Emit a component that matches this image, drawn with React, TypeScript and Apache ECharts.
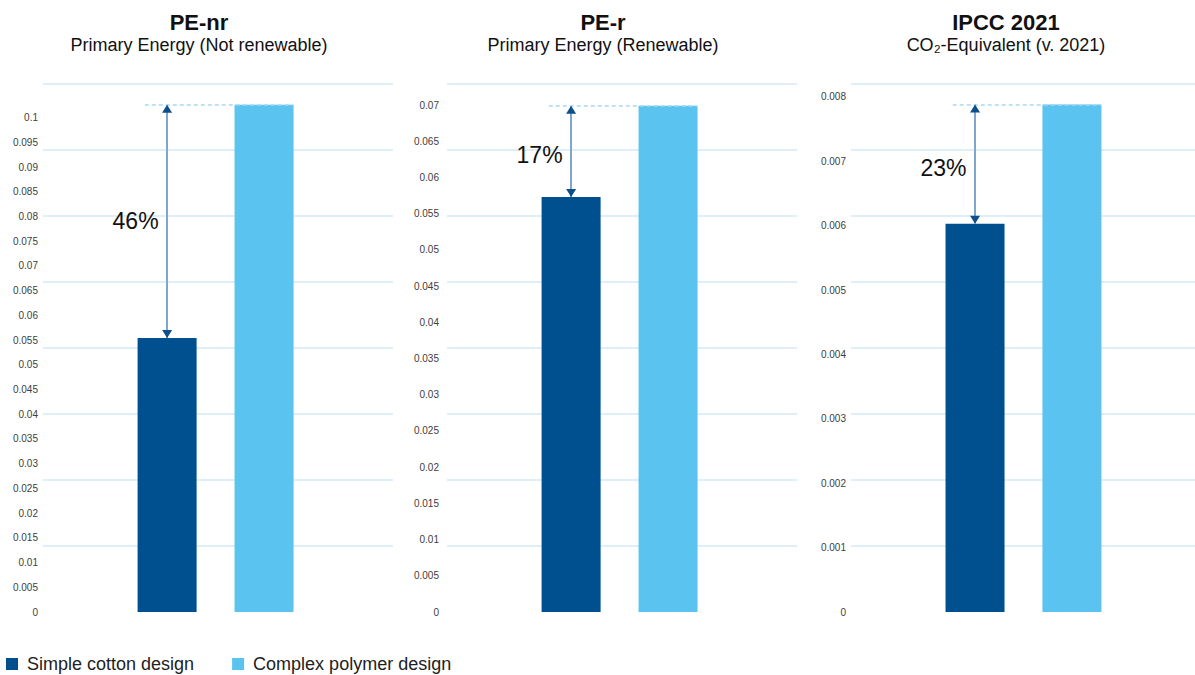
import React, { useEffect, useRef } from "react";
import * as echarts from "echarts";

// ---- data ----
const seriesNames = ["Simple cotton design", "Complex polymer design"];
const panelTitles = ["PE-nr", "PE-r", "IPCC 2021"];
const panelSubtitles = [
  "Primary Energy (Not renewable)",
  "Primary Energy (Renewable)",
  "CO₂-Equivalent (v. 2021)",
];
const simpleValues = [0.0554, 0.0573, 0.00603];
const complexValues = [0.1026, 0.0699, 0.00788];
const diffLabels = ["46%", "17%", "23%"];
const tickSteps = [0.005, 0.005, 0.001];
const tickMaxLabels = [0.1, 0.07, 0.008];
const axisMaxValues = [0.1068, 0.0729, 0.0082];
const gridDivisions = 8;
const barPositions = [0, 1];

// ---- layout / style ----
const FONT = '"Liberation Sans", Arial, Helvetica, sans-serif';
const DARK = "#00508f";
const LIGHT = "#5ac3ef";
const gridLefts = [43, 447, 851];
const gridWidths = [350, 350, 344];
const xMins = [-1.28, -1.28, -1.28];
const xMaxs = [2.33, 2.33, 2.27];
const gridTop = 84;
const gridHeight = 528;
const titleCenters = [199, 603, 1006];
const labelMargins = [5, 8, 5];
const labelOffsets = [[0, 0], [0, 4], [0, 4]];

export default function App() {
  const ref = useRef<HTMLDivElement>(null);

  useEffect(() => {
    if (!ref.current) return;
    const chart = echarts.init(ref.current, undefined, { renderer: "svg" });
    const idx = [0, 1, 2];

    const grid = idx.map((i) => ({
      left: gridLefts[i],
      top: gridTop,
      width: gridWidths[i],
      height: gridHeight,
    }));

    const xAxis = idx.map((i) => ({
      type: "value",
      gridIndex: i,
      min: xMins[i],
      max: xMaxs[i],
      show: false,
    }));

    const yAxis: any[] = [];
    idx.forEach((i) => {
      yAxis.push({
        type: "value",
        gridIndex: i,
        min: 0,
        max: axisMaxValues[i],
        interval: tickSteps[i],
        position: "left",
        axisLine: { show: false },
        axisTick: { show: false },
        splitLine: { show: false },
        axisLabel: {
          margin: labelMargins[i],
          fontSize: 10,
          color: "#404040",
          fontFamily: FONT,
          showMaxLabel: false,
          formatter: (v: number) =>
            v > tickMaxLabels[i] + 1e-9 ? "" : String(parseFloat(v.toFixed(4))),
        },
      });
      yAxis.push({
        type: "value",
        gridIndex: i,
        min: 0,
        max: gridDivisions,
        interval: 1,
        position: "right",
        axisLine: { show: false },
        axisTick: { show: false },
        axisLabel: { show: false },
        splitLine: {
          show: true,
          showMinLine: false,
          lineStyle: { color: "#d3eaf9", width: 1.5 },
        },
      });
    });

    const series: any[] = [];
    idx.forEach((i) => {
      const s = simpleValues[i];
      const c = complexValues[i];
      series.push({
        type: "bar",
        name: seriesNames[0],
        xAxisIndex: i,
        yAxisIndex: i * 2,
        barWidth: 59,
        barGap: "-100%",
        itemStyle: { color: DARK },
        data: [[barPositions[0], s]],
        markLine: {
          silent: true,
          symbol: "none",
          label: { show: false },
          data: [
            [
              { coord: [barPositions[0], s], lineStyle: { color: "#7fa6cc", width: 2, type: "solid" } },
              { coord: [barPositions[0], c], lineStyle: { color: "#7fa6cc", width: 2, type: "solid" } },
            ],
            [
              { coord: [barPositions[0] - 0.23, c], lineStyle: { color: "#a9d7f4", width: 1.5, type: [4, 3] } },
              { coord: [barPositions[1] + 0.3, c], lineStyle: { color: "#a9d7f4", width: 1.5, type: [4, 3] } },
            ],
          ],
        },
        markPoint: {
          silent: true,
          z: 10,
          data: [
            {
              coord: [barPositions[0], c],
              symbol: "triangle",
              symbolSize: [10, 8],
              symbolOffset: [0, "50%"],
              itemStyle: { color: "#0d4f8b" },
              label: { show: false },
            },
            {
              coord: [barPositions[0], s],
              symbol: "triangle",
              symbolSize: [10, 8],
              symbolRotate: 180,
              symbolOffset: [0, "-50%"],
              itemStyle: { color: "#0d4f8b" },
              label: { show: false },
            },
            {
              coord: [barPositions[0], (s + c) / 2],
              symbol: "rect",
              symbolSize: 1,
              itemStyle: { color: "rgba(0,0,0,0)" },
              label: {
                show: true,
                position: "left",
                distance: 8,
                offset: labelOffsets[i],
                formatter: diffLabels[i],
                fontSize: 23,
                color: "#111",
                fontFamily: FONT,
              },
            },
          ],
        },
      });
      series.push({
        type: "bar",
        name: seriesNames[1],
        xAxisIndex: i,
        yAxisIndex: i * 2,
        barWidth: 59,
        barGap: "-100%",
        itemStyle: { color: LIGHT },
        data: [[barPositions[1], c]],
      });
    });

    const graphic: any[] = [];
    idx.forEach((i) => {
      graphic.push({
        type: "text",
        x: titleCenters[i],
        y: 22,
        style: {
          text: panelTitles[i],
          align: "center",
          verticalAlign: "middle",
          textAlign: "center",
          textVerticalAlign: "middle",
          fontSize: 22,
          fontWeight: "bold",
          fontFamily: FONT,
          fill: "#111",
        },
      });
      graphic.push({
        type: "text",
        x: titleCenters[i],
        y: 45,
        style: {
          text: panelSubtitles[i],
          align: "center",
          verticalAlign: "middle",
          textAlign: "center",
          textVerticalAlign: "middle",
          fontSize: 18,
          fontFamily: FONT,
          fill: "#111",
        },
      });
    });

    chart.setOption({
      animation: false,
      backgroundColor: "#ffffff",
      grid,
      xAxis,
      yAxis,
      series,
      graphic,
      legend: {
        data: seriesNames,
        left: 6,
        top: 655,
        padding: 0,
        icon: "rect",
        itemWidth: 12,
        itemHeight: 12,
        itemGap: 38,
        selectedMode: false,
        textStyle: { fontSize: 18, color: "#222", fontFamily: FONT, padding: [0, 0, 0, 4] },
      },
    });

    return () => chart.dispose();
  }, []);

  return (
    <div
      ref={ref}
      style={{ position: "fixed", left: 0, top: 0, width: 1195, height: 675 }}
    />
  );
}
